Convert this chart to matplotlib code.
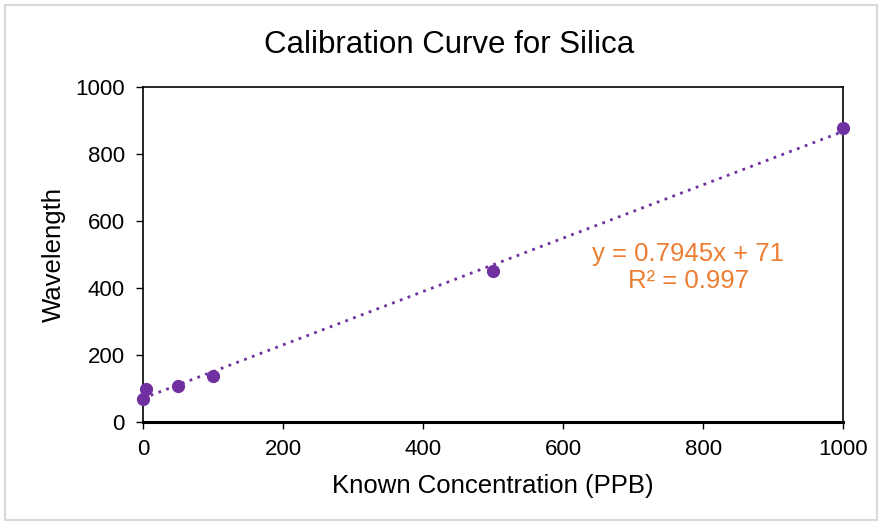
import numpy as np
import matplotlib.pyplot as plt
from matplotlib.patches import Rectangle

plt.rcParams['font.family'] = ['Liberation Sans', 'DejaVu Sans']

# calibration standards
conc = [0, 5, 50, 100, 500, 1000]
wavelength = [70, 100, 108, 137, 450, 878]
eq_text = 'y = 0.7945x + 71\nR² = 0.997'

purple = '#7030A0'
orange = '#ED7D31'

fig = plt.figure(figsize=(8.82, 5.23), dpi=100)
ax = fig.add_axes([0.162, 0.193, 0.794, 0.641])

# trendline
slope, icpt = np.polyfit(conc, wavelength, 1)
xs = np.array([0, 1000])
ax.plot(xs, slope * xs + icpt, linestyle=(0, (1, 2)), color=purple, linewidth=2)
ax.plot(conc, wavelength, 'o', color=purple, markersize=8.5, clip_on=False, zorder=5)

ax.text(779, 460, eq_text, color=orange, fontsize=18.5, ha='center', va='center', linespacing=1.15)

ax.set_xlim(0, 1000)
ax.set_ylim(0, 1000)
ax.set_xticks(range(0, 1001, 200))
ax.set_yticks(range(0, 1001, 200))
ax.tick_params(labelsize=16, length=5, width=1)
ax.tick_params(axis='x', pad=7)
ax.tick_params(axis='y', pad=8)
ax.set_xlabel('Known Concentration (PPB)', fontsize=18.5, labelpad=10)
ax.set_ylabel('Wavelength', fontsize=18.5, labelpad=7)
# title is centred on the whole chart, not the plot box
ax.set_title('Calibration Curve for Silica', fontsize=22.5, pad=24, x=0.437)

for s in ax.spines.values():
    s.set_linewidth(1.2)
ax.spines['bottom'].set_linewidth(2.2)

# chart border
fig.patches.append(Rectangle((0.006, 0.006), 0.988, 0.984, transform=fig.transFigure,
                             fill=False, edgecolor='#d9d9d9', linewidth=1.5))

fig.savefig('out.png', dpi=100)
